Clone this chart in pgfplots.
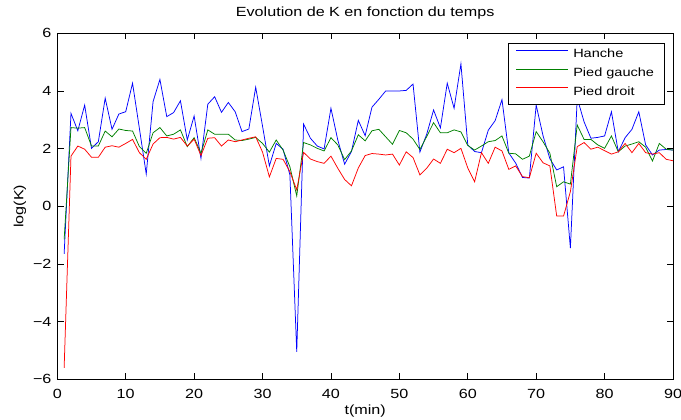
\documentclass[border=0pt]{standalone}
\usepackage{fontspec}
\setmainfont{Liberation Sans}[FakeStretch=1.216]
\usepackage{pgfplots}
\pgfplotsset{compat=1.18}
\usepackage{pgfplotstable}

% t, Hanche, Pied gauche, Pied droit
\pgfplotstableread{
t   H      G      D
1   -1.65  -1.15  -5.60
2   3.22   2.73   1.74
3   2.62   2.71   2.09
4   3.51   2.73   1.98
5   2.01   2.09   1.70
6   2.24   2.09   1.70
7   3.75   2.61   2.05
8   2.67   2.41   2.10
9   3.20   2.68   2.05
10  3.28   2.63   2.18
11  4.27   2.61   2.32
12  2.70   2.07   1.86
13  1.12   1.84   1.63
14  3.63   2.55   2.16
15  4.40   2.73   2.38
16  3.11   2.44   2.39
17  3.25   2.50   2.33
18  3.66   2.65   2.39
19  2.30   2.07   2.09
20  3.13   2.38   2.33
21  1.66   1.84   1.76
22  3.54   2.65   2.36
23  3.80   2.50   2.38
24  3.26   2.50   2.09
25  3.60   2.50   2.30
26  3.28   2.30   2.24
27  2.59   2.28   2.30
28  2.68   2.33   2.36
29  4.13   2.39   2.41
30  2.78   2.18   1.88
31  1.40   1.88   1.02
32  2.18   2.30   1.66
33  1.98   1.95   1.63
34  1.09   1.37   1.20
35  -5.05  0.36   0.57
36  2.85   2.21   1.87
37  2.36   2.13   1.64
38  2.09   2.01   1.55
39  1.99   1.92   1.49
40  3.40   2.38   1.74
41  2.30   2.13   1.32
42  1.46   1.62   0.93
43  1.90   1.92   0.71
44  2.98   2.48   1.33
45  2.45   2.27   1.76
46  3.44   2.62   1.83
47  3.71   2.67   1.81
48  4.00   2.41   1.78
49  4.00   2.15   1.81
50  4.00   2.63   1.43
51  4.02   2.55   1.89
52  4.24   2.33   1.69
53  1.88   1.97   1.09
54  2.50   2.42   1.32
55  3.34   2.90   1.64
56  2.72   2.55   1.49
57  4.27   2.55   1.98
58  3.40   2.65   1.86
59  4.94   2.58   2.01
60  2.13   2.11   1.33
61  1.90   1.95   0.85
62  1.86   2.09   1.86
63  2.64   2.24   1.49
64  2.97   2.28   2.05
65  3.70   2.44   1.92
66  1.85   1.84   1.28
67  1.50   1.82   1.40
68  1.00   1.63   1.03
69  0.98   1.74   0.99
70  3.51   2.59   1.84
71  2.45   2.24   1.51
72  1.65   1.84   1.40
73  1.26   0.68   -0.34
74  1.37   0.85   -0.34
75  -1.45  0.77   0.51
76  3.75   2.82   2.07
77  2.93   2.32   2.21
78  2.36   2.32   1.98
79  2.39   2.13   2.05
80  2.44   2.01   1.93
81  3.28   2.44   1.81
82  1.89   1.89   1.89
83  2.38   2.09   2.18
84  2.67   2.16   1.86
85  3.28   2.24   2.18
86  2.13   2.05   1.86
87  1.78   1.57   1.81
88  1.95   2.18   1.86
89  1.97   1.98   1.63
90  1.95   1.95   1.58
}\data

\definecolor{mblue}{rgb}{0,0,1}
\definecolor{mgreen}{rgb}{0,0.5,0}
\definecolor{mred}{rgb}{1,0,0}

\begin{document}
\fontsize{13.33}{16}\selectfont
\begin{tikzpicture}
  \path[use as bounding box] (-57.3bp,-40.7bp) rectangle (623.7bp,379.3bp);
  \begin{axis}[
      scale only axis,
      width=615.7bp,
      height=346bp,
      xmin=0, xmax=90,
      ymin=-6, ymax=6,
      xtick={0,10,...,90},
      xticklabels={0,10,20,30,40,50,60,70,80,90},
      ytick={-6,-4,...,6},
      yticklabels={−6,−4,−2,0,2,4,6},
      tick align=inside,
      tick pos=both,
      major tick length=6.2bp,
      axis line style={line width=0.6bp},
      every tick/.style={black, line width=0.6bp},
      xticklabel style={anchor=base, yshift=-18.7bp},
      yticklabel style={xshift=-1.2bp},
      title={Evolution de K en fonction du temps},
      title style={at={(axis description cs:0.5,1)}, anchor=base, yshift=11bp},
      xlabel={t(min)},
      xlabel style={at={(axis description cs:0.5,0)}, anchor=base, yshift=-35bp},
      ylabel={log(K)},
      ylabel style={at={(axis description cs:-0.0552,0.5)}, anchor=base},
      legend image code/.code={\draw[#1] (0bp,4.5bp) -- (51.7bp,4.5bp);},
      legend style={
          at={(axis description cs:0.986,0.973)}, anchor=north east,
          draw=black, line width=0.6bp, fill=white,
          font=\fontsize{12}{14}\selectfont,
          inner xsep=8bp, inner ysep=4bp, row sep=2.6bp,
          nodes={inner sep=2bp, text height=9bp, text depth=3bp},
          /tikz/every odd column/.append style={column sep=3bp},
          cells={anchor=west},
        },
    ]
    \addplot[mblue, line width=0.75bp] table[x=t, y=H] {\data};
    \addplot[mgreen, line width=0.75bp] table[x=t, y=G] {\data};
    \addplot[mred, line width=0.75bp] table[x=t, y=D] {\data};
    \legend{Hanche, Pied gauche, Pied droit}
  \end{axis}
\end{tikzpicture}
\end{document}
